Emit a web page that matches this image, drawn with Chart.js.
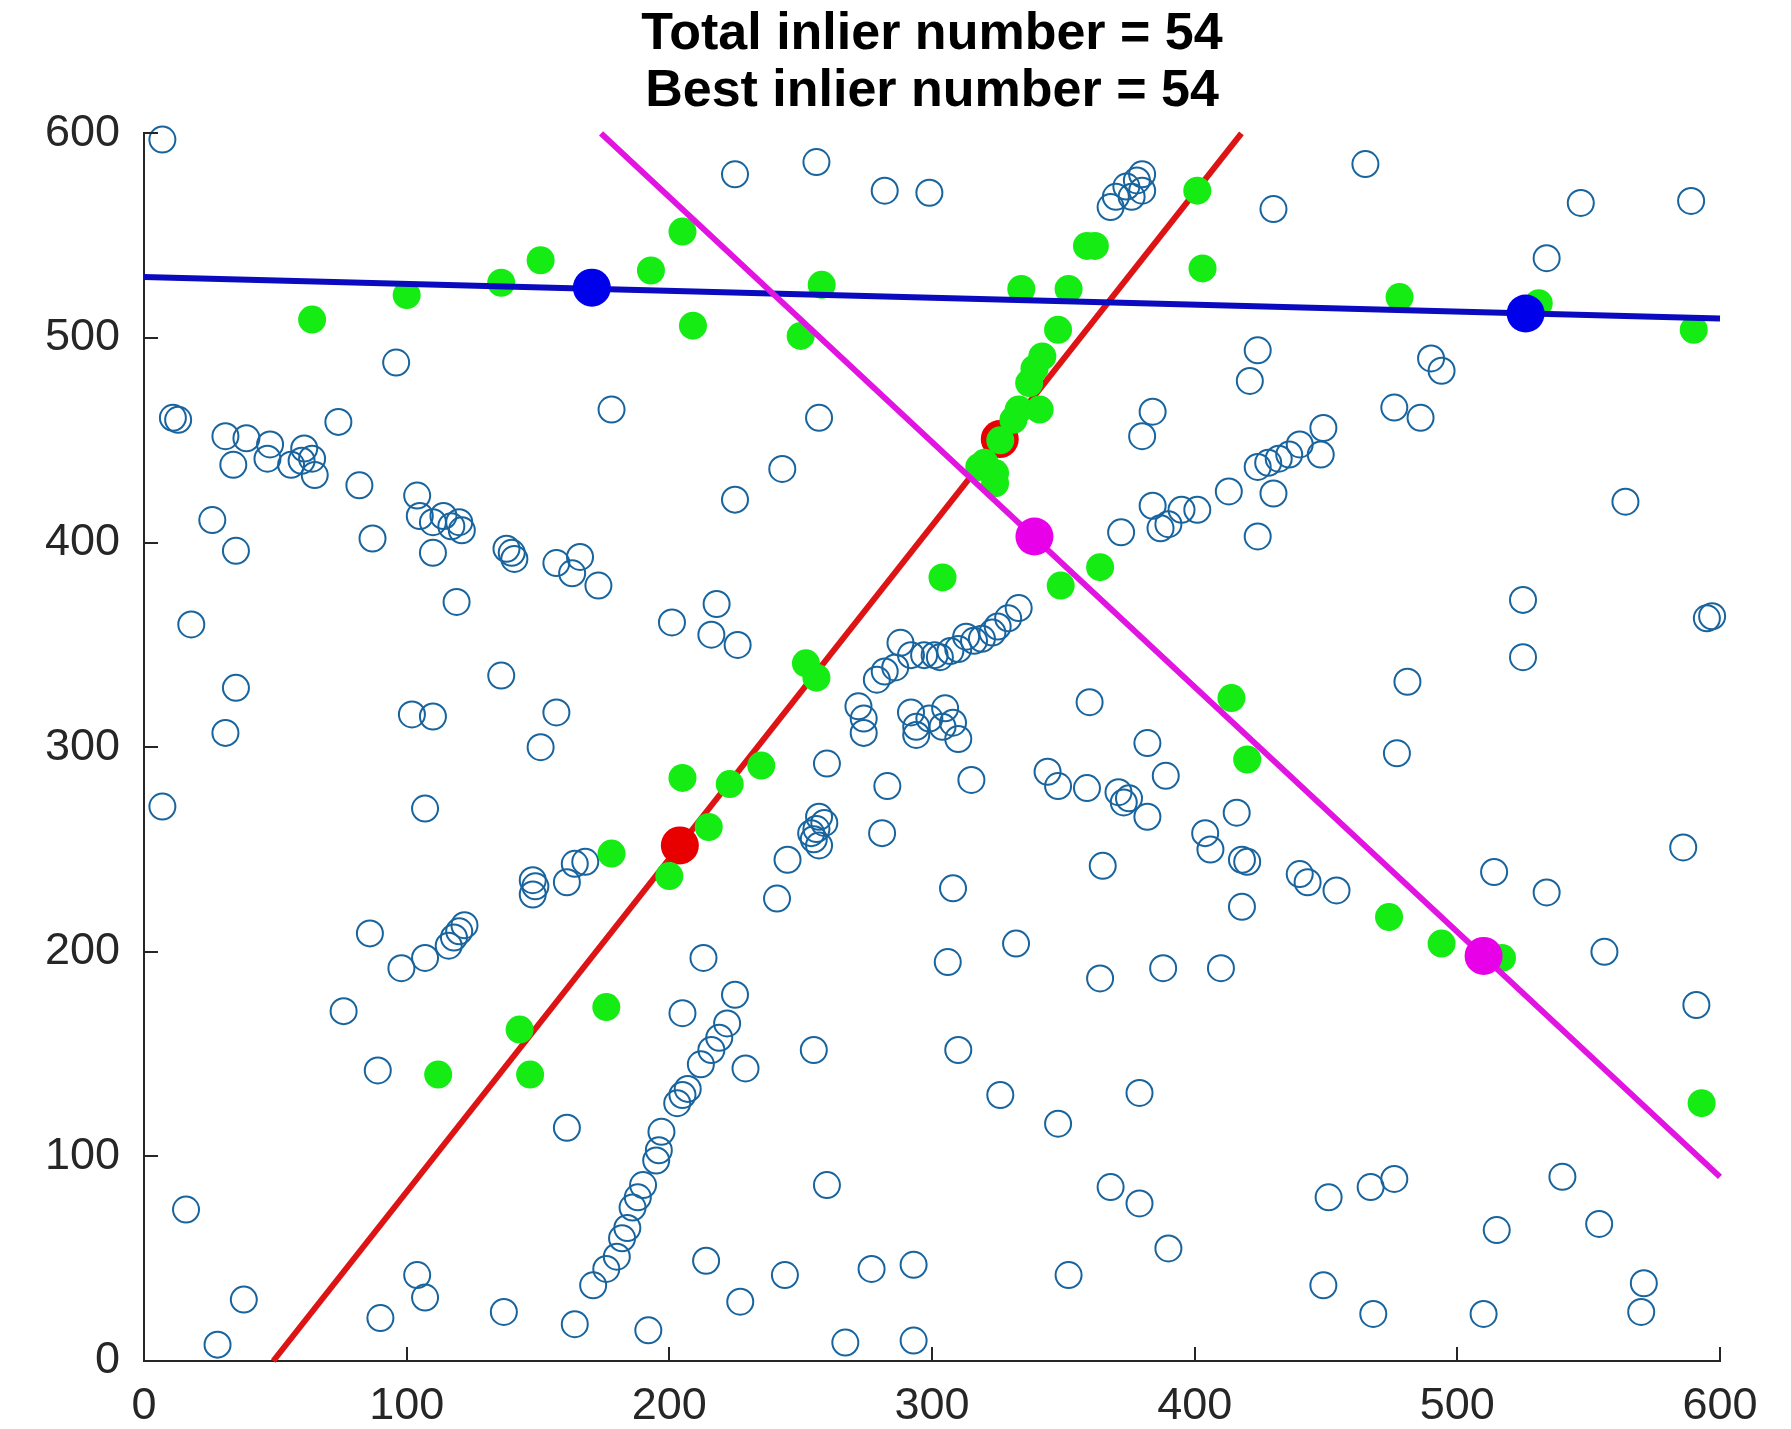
<!DOCTYPE html>
<html>
<head>
<meta charset="utf-8">
<title>RANSAC line fitting</title>
<script src="https://cdn.jsdelivr.net/npm/chart.js@4.4.1/dist/chart.umd.min.js"></script>
<style>
  html, body { margin: 0; padding: 0; background: #ffffff; }
  #wrap { width: 1791px; height: 1429px; position: relative; }
</style>
</head>
<body>
<div id="wrap"><canvas id="chart"></canvas></div>
<script>
// Title lines
const titleLines = ['Total inlier number = 54', 'Best inlier number = 54'];

// Axis tick values
const xTickValues = [0, 100, 200, 300, 400, 500, 600];
const yTickValues = [0, 100, 200, 300, 400, 500, 600];

// Outlier points (open circles)
const outlierPoints = [
  [7,597],[225,580],[256,586],[282,572],[299,571],
  [368,564],[370,569],[374,574],[376,569],[380,580],[380,572],[378,577],
  [465,585],[430,563],[547,566],[589,567],[534,539],
  [424,494],[421,479],[490,490],[494,484],[476,466],[486,461],
  [449,456],[448,443],[440,448],[436,443],[428,439],[424,437],[432,441],[430,424],[424,403],[564,420],
  [96,488],[178,465],[11,461],[13,460],
  [31,452],[39,451],[34,438],[48,448],[47,441],[56,438],[61,446],[64,441],[65,433],[60,440],
  [74,459],[82,428],[26,411],
  [104,423],[105,413],[110,410],[114,413],[117,408],[120,410],[121,406],
  [87,402],[35,396],[110,395],[140,395],[141,392],[138,397],
  [157,390],[166,393],[163,385],[173,379],[119,371],[18,360],
  [201,361],[216,355],[218,370],[226,350],
  [225,421],[243,436],[257,461],
  [384,464],[380,452],
  [372,405],[384,418],[387,407],[390,409],[395,416],[401,416],[413,425],
  [136,335],[35,329],[102,316],[110,315],[157,317],[31,307],[151,300],[7,271],[107,270],
  [168,244],[164,243],[161,234],[149,232],[148,228],[148,235],
  [86,209],[98,192],[107,197],[116,203],[118,207],[120,210],[122,213],
  [76,171],[89,142],
  [213,197],[205,170],[225,179],[222,165],[219,158],[216,152],[212,145],[207,133],[205,130],[203,126],
  [197,112],[196,103],[195,98],[190,86],[188,80],[186,75],[184,65],[182,60],[180,51],[176,45],[171,37],
  [161,114],[229,143],[255,152],[260,86],
  [16,74],[38,30],[28,8],[104,42],[107,31],[90,21],[137,24],[164,18],[192,15],[214,49],[227,29],
  [244,42],[267,9],[293,10],[277,45],[293,47],
  [306,195],[332,204],[364,187],[388,192],[410,192],[556,200],[591,174],
  [310,152],[326,130],[348,116],[379,131],[368,85],[379,77],[390,55],[352,42],
  [451,80],[467,85],[476,89],[449,37],[468,23],[510,23],[515,64],[540,90],[554,67],[571,38],[570,24],
  [525,372],[597,364],[595,363],[525,344],[481,332],[477,297],
  [416,268],[404,258],[406,250],[420,244],[418,245],[440,238],[443,234],[454,230],[418,222],
  [514,239],[534,229],[586,251],
  [360,322],[382,302],[389,286],[344,288],[348,281],[359,280],[371,278],[375,275],[373,273],[382,266],
  [365,242],[315,284],[283,281],[281,258],[308,231],
  [260,292],[245,245],[241,226],
  [257,266],[256,260],[255,255],[257,252],[254,258],[259,263],
  [272,320],[274,314],[274,307],[279,333],[282,337],[286,339],[288,351],[292,345],[297,345],[301,345],
  [303,344],[307,347],[310,348],[313,354],[316,352],[319,353],[323,356],[325,359],[329,363],[333,368],
  [292,317],[294,310],[299,314],[305,319],[304,310],[294,306],[310,304],[308,312]
];

// Inlier points (filled green)
const inlierPoints = [
  [64,509],[100,521],[136,527],[151,538],[193,533],[205,552],[209,506],[250,501],[258,526],
  [334,524],[352,524],[359,545],[362,545],[401,572],[403,534],[478,520],[590,504],[531,517],
  [112,140],[143,162],[147,140],[176,173],[178,248],[200,237],[215,261],[205,285],[223,282],
  [235,291],[252,341],[256,334],[304,383],[318,437],[320,439],[324,434],[324,429],[326,450],
  [331,460],[333,465],[337,478],[339,485],[342,491],[348,504],[341,465],
  [349,379],[364,388],[414,324],[420,294],[474,217],[494,204],[517,197],[593,126]
];

// Fitted line end points
const blueLine = [[0,529.8],[600,509.5]];
const redLine = [[49.2,0],[417.8,600]];
const magentaLine = [[174,600],[600,90]];

// Sample points that define each line
const blueSamples = [[170.5,524.6],[526,512]];
const redSamples = [[204,252],[325.8,450.6]];
const magentaSamples = [[339,403],[510,198]];

const toXY = arr => arr.map(p => ({ x: p[0], y: p[1] }));

const axisColor = '#262626';
const fontFamily = '"Liberation Sans", Arial, Helvetica, sans-serif';

// Inward tick marks on the left and bottom axes
const innerTicks = {
  id: 'innerTicks',
  afterDraw(chart) {
    const ctx = chart.ctx;
    const xs = chart.scales.x, ys = chart.scales.y;
    const area = chart.chartArea;
    const len = 14;
    ctx.save();
    ctx.strokeStyle = axisColor;
    ctx.lineWidth = 2;
    ctx.beginPath();
    xTickValues.forEach(v => {
      const px = Math.round(xs.getPixelForValue(v));
      ctx.moveTo(px, area.bottom);
      ctx.lineTo(px, area.bottom - len);
    });
    yTickValues.forEach(v => {
      const py = Math.round(ys.getPixelForValue(v));
      ctx.moveTo(area.left, py);
      ctx.lineTo(area.left + len, py);
    });
    ctx.stroke();
    ctx.restore();
  }
};

const lineDataset = (pts, color, order) => ({
  data: toXY(pts),
  showLine: true,
  borderColor: color,
  borderWidth: 6,
  pointRadius: 0,
  fill: false,
  clip: false,
  order
});

const markerDataset = (pts, color, radius, order) => ({
  data: toXY(pts),
  showLine: false,
  pointRadius: radius,
  pointBackgroundColor: color,
  pointBorderColor: color,
  pointBorderWidth: 0,
  clip: false,
  order
});

new Chart(document.getElementById('chart'), {
  type: 'scatter',
  data: {
    datasets: [
      markerDataset(magentaSamples, 'rgb(232,0,232)', 19, 0),
      lineDataset(magentaLine, 'rgb(225,20,225)', 1),
      markerDataset(blueSamples, 'rgb(0,0,235)', 19, 2),
      lineDataset(blueLine, 'rgb(10,10,190)', 3),
      markerDataset(inlierPoints, 'rgb(20,236,20)', 14, 4),
      markerDataset(redSamples, 'rgb(232,0,0)', 19, 5),
      lineDataset(redLine, 'rgb(222,20,20)', 6),
      {
        data: toXY(outlierPoints),
        showLine: false,
        pointRadius: 13,
        pointBackgroundColor: 'rgba(255,255,255,0)',
        pointBorderColor: 'rgb(24,100,158)',
        pointBorderWidth: 2,
        clip: false,
        order: 7
      }
    ]
  },
  options: {
    responsive: true,
    maintainAspectRatio: false,
    devicePixelRatio: 1,
    animation: false,
    events: [],
    layout: { padding: { left: 0, right: 71, top: 0, bottom: 0 } },
    plugins: {
      legend: { display: false },
      tooltip: { enabled: false },
      title: {
        display: true,
        text: titleLines,
        fullSize: false,
        color: '#000000',
        font: { family: fontFamily, size: 52, weight: 'bold', lineHeight: 1.1 },
        padding: { top: 6, bottom: 13 }
      }
    },
    scales: {
      x: {
        type: 'linear',
        min: 0, max: 600,
        afterBuildTicks: s => { s.ticks = xTickValues.map(v => ({ value: v })); },
        afterFit: s => { s.height = 68; },
        grid: { display: false, drawTicks: false },
        border: { display: true, color: axisColor, width: 2 },
        ticks: {
          color: axisColor,
          padding: 19,
          maxRotation: 0,
          font: { family: fontFamily, size: 45 }
        }
      },
      y: {
        type: 'linear',
        min: 0, max: 600,
        afterBuildTicks: s => { s.ticks = yTickValues.map(v => ({ value: v })); },
        afterFit: s => { s.width = 144; },
        grid: { display: false, drawTicks: false },
        border: { display: true, color: axisColor, width: 2 },
        ticks: {
          color: axisColor,
          padding: 24,
          font: { family: fontFamily, size: 45 }
        }
      }
    }
  },
  plugins: [innerTicks]
});
</script>
</body>
</html>
